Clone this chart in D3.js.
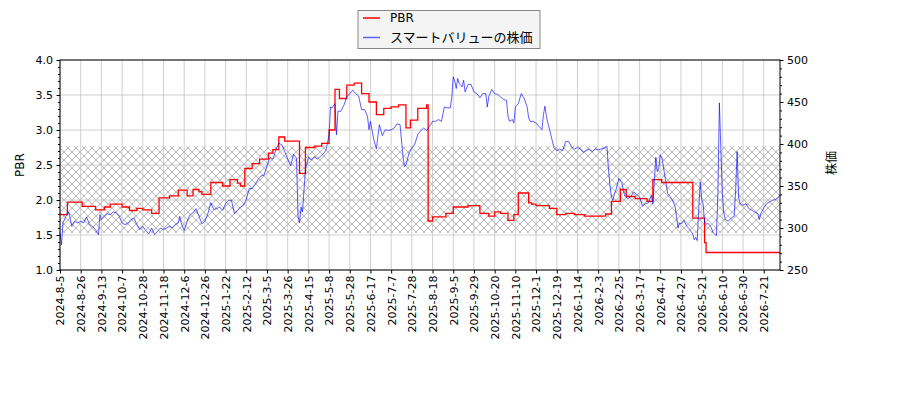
<!DOCTYPE html>
<html>
<head>
<meta charset="utf-8">
<script src="https://cdn.jsdelivr.net/npm/d3@7"></script>
<style>
  body { margin: 0; background: #fff; }
</style>
</head>
<body>
<div id="chart"></div>
<script>
// tick labels, one every 14 trading days
const dateLabels = [
  "2024-8-5", "2024-8-26", "2024-9-13", "2024-10-7", "2024-10-28", "2024-11-18",
  "2024-12-6", "2024-12-26", "2025-1-22", "2025-2-12", "2025-3-5", "2025-3-26",
  "2025-4-15", "2025-5-8", "2025-5-28", "2025-6-17", "2025-7-7", "2025-7-28",
  "2025-8-18", "2025-9-5", "2025-9-29", "2025-10-20", "2025-11-10", "2025-12-1",
  "2025-12-19", "2026-1-14", "2026-2-3", "2026-2-25", "2026-3-17", "2026-4-7",
  "2026-4-27", "2026-5-21", "2026-6-10", "2026-6-30", "2026-7-21"
];
const labelStep = 14;
const lastDay = 487;

// PBR: [trading day, value], holds until next change
const pbrSteps = [
  [0, 1.79], [5, 1.97], [15, 1.91], [24, 1.86], [30, 1.90], [34, 1.94], [42, 1.90],
  [47, 1.85], [52, 1.88], [56, 1.86], [62, 1.81], [67, 2.03], [74, 2.06], [80, 2.14],
  [86, 2.06], [90, 2.15], [94, 2.12], [96, 2.08], [102, 2.25], [110, 2.20], [115, 2.29],
  [120, 2.24], [122, 2.20], [125, 2.45], [130, 2.52], [135, 2.585], [141, 2.67],
  [144, 2.72], [148, 2.90], [152, 2.84], [162, 2.38], [166, 2.75], [172, 2.77],
  [177, 2.81], [182, 3.00], [186, 3.58], [189, 3.45], [194, 3.64], [199, 3.67],
  [204, 3.52], [209, 3.40], [214, 3.22], [219, 3.31], [224, 3.33], [229, 3.36],
  [234, 3.03], [237, 3.14], [242, 3.31], [248, 3.36], [249, 1.70], [252, 1.76],
  [261, 1.81], [266, 1.90], [276, 1.92], [284, 1.81], [290, 1.77], [294, 1.83],
  [298, 1.81], [303, 1.71], [307, 1.79], [310, 2.10], [317, 1.96], [319, 1.94],
  [322, 1.92], [331, 1.88], [336, 1.79], [342, 1.81], [348, 1.79], [355, 1.77],
  [369, 1.80], [373, 1.98], [379, 2.15], [383, 2.05], [389, 2.02], [397, 1.98],
  [401, 2.29], [407, 2.25], [428, 1.74], [436, 1.39], [437, 1.25], [487, 1.25]
];

// share price: [trading day, yen]
const price = [
  [0, 295], [1, 280], [2, 306], [4, 314], [6, 319], [8, 302], [10, 308], [12, 306],
  [14, 308], [16, 306], [18, 313], [20, 304], [22, 302], [24, 298], [26, 292], [27, 316],
  [28, 310], [30, 314], [32, 317], [34, 316], [36, 319], [38, 318], [40, 314], [42, 306],
  [44, 304], [46, 306], [48, 310], [50, 312], [52, 304], [54, 298], [56, 302], [58, 297],
  [60, 293], [62, 300], [64, 292], [66, 296], [68, 300], [70, 298], [72, 300], [74, 302],
  [76, 300], [78, 304], [80, 306], [81, 314], [82, 306], [84, 297], [86, 308], [88, 316],
  [90, 318], [92, 323], [94, 314], [96, 305], [98, 308], [100, 317], [102, 330], [104, 322],
  [106, 323], [108, 325], [110, 321], [112, 329], [114, 333], [116, 333], [118, 317],
  [120, 321], [122, 325], [124, 327], [126, 334], [128, 347], [130, 347], [132, 352],
  [134, 358], [136, 362], [138, 363], [140, 374], [142, 384], [144, 382], [146, 393],
  [148, 401], [150, 399], [152, 391], [154, 382], [156, 374], [158, 388], [160, 383],
  [161, 314], [162, 306], [163, 325], [164, 319], [166, 369], [168, 384], [170, 381],
  [172, 385], [174, 382], [176, 385], [178, 388], [180, 393], [182, 411], [183, 444],
  [184, 443], [186, 448], [187, 411], [188, 439], [190, 439], [192, 446], [194, 456],
  [196, 460], [198, 464], [200, 460], [202, 457], [204, 441], [206, 441], [208, 433],
  [209, 417], [210, 427], [212, 407], [214, 394], [216, 423], [218, 410], [220, 417],
  [222, 416], [224, 417], [226, 419], [228, 424], [230, 423], [232, 385], [233, 373],
  [234, 375], [236, 389], [238, 395], [240, 400], [242, 411], [244, 416], [246, 419],
  [248, 416], [250, 421], [252, 427], [254, 427], [256, 429], [258, 427], [260, 444],
  [262, 443], [264, 443], [265, 456], [266, 480], [267, 475], [268, 466], [269, 478],
  [270, 472], [272, 468], [273, 476], [274, 462], [276, 471], [278, 471], [280, 462],
  [282, 460], [284, 455], [286, 460], [288, 460], [289, 444], [290, 456], [292, 465],
  [294, 460], [296, 459], [298, 456], [300, 453], [302, 452], [303, 433], [304, 427],
  [306, 429], [307, 425], [308, 444], [310, 448], [312, 460], [314, 454], [316, 444],
  [317, 431], [318, 427], [320, 427], [322, 425], [324, 421], [326, 417], [327, 435],
  [328, 445], [329, 433], [330, 425], [332, 411], [334, 396], [336, 392], [338, 394],
  [340, 392], [342, 403], [344, 403], [346, 397], [348, 394], [350, 396], [352, 394],
  [354, 390], [356, 392], [358, 394], [360, 391], [362, 394], [364, 393], [366, 394],
  [368, 395], [370, 397], [371, 369], [372, 351], [373, 337], [374, 333], [375, 341],
  [376, 345], [377, 352], [378, 359], [380, 354], [382, 338], [384, 335], [386, 337],
  [388, 343], [390, 340], [392, 337], [394, 326], [396, 329], [398, 330], [400, 339],
  [401, 329], [402, 355], [403, 384], [404, 367], [405, 371], [406, 387], [407, 384],
  [408, 375], [409, 363], [410, 353], [411, 341], [412, 339], [414, 334], [416, 326],
  [417, 314], [418, 300], [419, 306], [420, 305], [421, 306], [422, 309], [424, 302],
  [426, 298], [428, 293], [429, 286], [430, 289], [431, 285], [432, 321], [433, 355],
  [434, 334], [435, 329], [436, 306], [437, 304], [438, 306], [440, 302], [442, 294],
  [444, 291], [445, 341], [446, 449], [447, 393], [448, 341], [449, 318], [450, 310],
  [452, 308], [454, 312], [456, 314], [457, 345], [458, 391], [459, 337], [460, 329],
  [462, 327], [464, 329], [466, 323], [468, 321], [470, 319], [472, 317], [473, 310],
  [474, 317], [476, 324], [478, 329], [480, 331], [482, 333], [484, 334], [486, 337],
  [487, 339]
];

// hatched PBR band
const pbrBand = [1.53, 2.77];

const svgWidth = 900;
const svgHeight = 400;
const margin = { top: 60, right: 120, bottom: 130, left: 60 };
const innerWidth = svgWidth - margin.left - margin.right;
const innerHeight = svgHeight - margin.top - margin.bottom;
const font = "'DejaVu Sans', 'Noto Sans CJK JP', sans-serif";

const svg = d3.select("#chart")
  .append("svg")
  .attr("width", svgWidth)
  .attr("height", svgHeight)
  .attr("font-family", font);

const x = d3.scaleLinear()
  .domain([0, lastDay])
  .range([margin.left, svgWidth - margin.right]);

const yL = d3.scaleLinear()
  .domain([1, 4])
  .range([svgHeight - margin.bottom, margin.top]);

const yR = d3.scaleLinear()
  .domain([250, 500])
  .range([svgHeight - margin.bottom, margin.top]);

const tickDays = dateLabels.map((d, i) => i * labelStep);

// hatch pattern
svg.append("defs")
  .append("pattern")
  .attr("id", "hatch")
  .attr("patternUnits", "userSpaceOnUse")
  .attr("width", 8)
  .attr("height", 8)
  .append("path")
  .attr("d", "M0,0L8,8M8,0L0,8M-1,7L1,9M7,-1L9,1")
  .attr("stroke", "#8a8a8a")
  .attr("stroke-width", 0.6);

svg.append("rect")
  .attr("x", margin.left)
  .attr("width", innerWidth)
  .attr("y", yL(pbrBand[1]))
  .attr("height", yL(pbrBand[0]) - yL(pbrBand[1]))
  .attr("fill", "url(#hatch)");

// grid
const grid = svg.append("g")
  .attr("stroke", "#c4c4c4")
  .attr("stroke-width", 0.8);

grid.selectAll("line.v")
  .data(tickDays)
  .join("line")
  .attr("class", "v")
  .attr("x1", d => x(d)).attr("x2", d => x(d))
  .attr("y1", margin.top).attr("y2", svgHeight - margin.bottom);

grid.selectAll("line.h")
  .data(d3.range(1, 4.01, 0.5))
  .join("line")
  .attr("class", "h")
  .attr("x1", margin.left).attr("x2", svgWidth - margin.right)
  .attr("y1", d => yL(d)).attr("y2", d => yL(d));

// lines
const pbrLine = d3.line()
  .curve(d3.curveStepAfter)
  .x(d => x(d[0]))
  .y(d => yL(d[1]));

const priceLine = d3.line()
  .x(d => x(d[0]))
  .y(d => yR(d[1]));

svg.append("path")
  .datum(pbrSteps)
  .attr("fill", "none")
  .attr("stroke", "#ff0000")
  .attr("stroke-width", 1.3)
  .attr("d", pbrLine);

svg.append("path")
  .datum(price)
  .attr("fill", "none")
  .attr("stroke", "#0000ff")
  .attr("stroke-opacity", 0.8)
  .attr("stroke-width", 0.8)
  .attr("stroke-linejoin", "round")
  .attr("d", priceLine);

// axes
function styleAxis(g) {
  g.attr("font-family", font).attr("font-size", 11);
  g.select(".domain").remove();
  g.selectAll("text").attr("fill", "#000");
  g.selectAll("line").attr("stroke", "#000");
}

svg.append("g")
  .attr("transform", `translate(0,${svgHeight - margin.bottom})`)
  .call(d3.axisBottom(x)
    .tickValues(tickDays)
    .tickFormat((d, i) => dateLabels[i])
    .tickSize(3.5)
    .tickPadding(3))
  .call(styleAxis)
  .call(g => g.selectAll("text")
    .attr("transform", "rotate(-90)")
    .attr("text-anchor", "end")
    .attr("x", -5.5)
    .attr("y", 0)
    .attr("dy", "0.35em"));

svg.append("g")
  .attr("transform", `translate(${margin.left},0)`)
  .call(d3.axisLeft(yL).tickValues(d3.range(1, 4.01, 0.5)).tickFormat(d3.format(".1f")).tickSize(3.5).tickPadding(3.5))
  .call(styleAxis);

svg.append("g")
  .attr("transform", `translate(${margin.left},0)`)
  .call(d3.axisLeft(yL).tickValues(d3.range(1, 4.01, 0.1).filter(v => Math.abs(v * 2 - Math.round(v * 2)) > 0.01)).tickFormat("").tickSize(2))
  .call(styleAxis);

svg.append("g")
  .attr("transform", `translate(${svgWidth - margin.right},0)`)
  .call(d3.axisRight(yR).tickValues(d3.range(250, 501, 50)).tickSize(3.5).tickPadding(3.5))
  .call(styleAxis);

svg.append("g")
  .attr("transform", `translate(${svgWidth - margin.right},0)`)
  .call(d3.axisRight(yR).tickValues(d3.range(250, 501, 10).filter(v => v % 50 !== 0)).tickFormat("").tickSize(2))
  .call(styleAxis);

// frame
svg.append("rect")
  .attr("x", margin.left)
  .attr("y", margin.top)
  .attr("width", innerWidth)
  .attr("height", innerHeight)
  .attr("fill", "none")
  .attr("stroke", "#000")
  .attr("stroke-width", 1);

// axis titles
svg.append("text")
  .attr("transform", `translate(24,${margin.top + innerHeight / 2}) rotate(-90)`)
  .attr("text-anchor", "middle")
  .attr("font-size", 12)
  .text("PBR");

svg.append("text")
  .attr("transform", `translate(836,${margin.top + innerHeight / 2 - 2}) rotate(-90)`)
  .attr("text-anchor", "middle")
  .attr("font-size", 12)
  .text("株価");

// legend
const legend = svg.append("g").attr("transform", "translate(358,10.5)");

legend.append("rect")
  .attr("width", 182)
  .attr("height", 38)
  .attr("fill", "#f4f4f4")
  .attr("stroke", "#888")
  .attr("stroke-width", 1);

const legendItems = [
  { label: "PBR", color: "#ff0000", opacity: 1, size: 12 },
  { label: "スマートバリューの株価", color: "#0000ff", opacity: 0.6, size: 13 }
];

legend.selectAll("g.item")
  .data(legendItems)
  .join("g")
  .attr("class", "item")
  .attr("transform", (d, i) => `translate(0,${7.5 + i * 19.5})`)
  .each(function (d) {
    const g = d3.select(this);
    g.append("line")
      .attr("x1", 5).attr("x2", 22)
      .attr("stroke", d.color)
      .attr("stroke-opacity", d.opacity)
      .attr("stroke-width", 1.5);
    g.append("text")
      .attr("x", 32)
      .attr("dy", "0.35em")
      .attr("font-size", d.size)
      .text(d.label);
  });
</script>
</body>
</html>
